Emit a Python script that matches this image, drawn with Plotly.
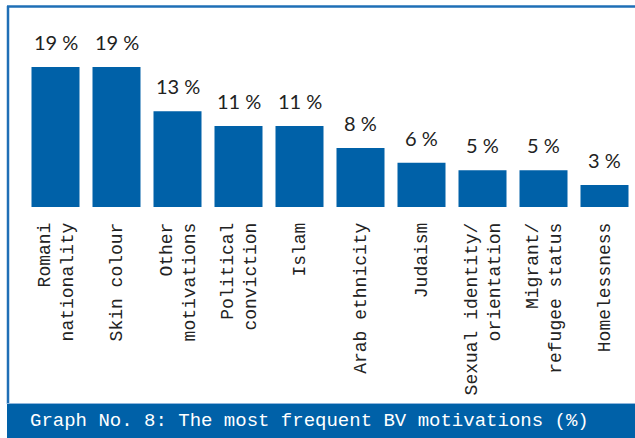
import plotly.graph_objects as go

categories = [
    "Romani<br>nationality",
    "Skin colour",
    "Other<br>motivations",
    "Political<br>conviction",
    "Islam",
    "Arab ethnicity",
    "Judaism",
    "Sexual identity/<br>orientation",
    "Migrant/<br>refugee status",
    "Homelessness",
]
values = [19, 19, 13, 11, 11, 8, 6, 5, 5, 3]
value_labels = [f"{v} %" for v in values]
title_text = "Graph No. 8: The most frequent BV motivations (%)"

blue = "#0061a8"
frame = "#1f6fb6"

W, H = 635, 438
L, B = 25, 231          # plot area margins
PW, PH = W - L, H - B   # plot area size


def px(x):   # page pixel -> paper x
    return (x - L) / PW


def py(y):   # page pixel (from top) -> paper y
    return (PH - y) / PH


fig = go.Figure(go.Bar(
    x=list(range(len(categories))),
    y=values,
    marker=dict(color=blue, line=dict(width=0)),
    hoverinfo="skip",
))

# value labels above the bars
for i, (v, t) in enumerate(zip(values, value_labels)):
    fig.add_annotation(x=i, y=v, text=t, showarrow=False, yanchor="bottom",
                       yshift=11, font=dict(family="Lato", size=20, color="#222222"))

# frame: top line, left line and the caption banner
fig.add_shape(type="line", xref="paper", yref="paper", x0=px(7), x1=px(640),
              y0=py(6.5), y1=py(6.5), line=dict(color=frame, width=2.5))
fig.add_shape(type="line", xref="paper", yref="paper", x0=px(8), x1=px(8),
              y0=py(6), y1=py(404), line=dict(color=frame, width=2.5))
fig.add_shape(type="rect", xref="paper", yref="paper", x0=px(7), x1=px(640),
              y0=py(442), y1=py(404), fillcolor=blue, line=dict(width=0), layer="above")
fig.add_shape(type="line", xref="paper", yref="paper", x0=px(7), x1=px(640),
              y0=py(403.5), y1=py(403.5), line=dict(color="#8fb6dc", width=1))
fig.add_annotation(xref="paper", yref="paper", x=px(28), y=py(421), xanchor="left",
                   yanchor="middle", text=title_text, showarrow=False,
                   font=dict(family="Liberation Mono", size=19, color="white"))

fig.update_layout(
    width=W,
    height=H,
    margin=dict(l=L, r=0, t=0, b=B),
    paper_bgcolor="white",
    plot_bgcolor="white",
    bargap=0.213,
    showlegend=False,
    xaxis=dict(
        range=[-0.5, 9.5],
        tickmode="array",
        tickvals=list(range(len(categories))),
        ticktext=categories,
        tickangle=-90,
        ticklabelstandoff=11,
        tickfont=dict(family="Liberation Mono", size=18, color="#222222"),
        showgrid=False,
        zeroline=False,
        showline=False,
        automargin=False,
    ),
    yaxis=dict(range=[0, 28.08], visible=False, automargin=False),
)

fig.write_html("out.html", config={"displayModeBar": False},
               post_script="document.body.style.margin='0';")
